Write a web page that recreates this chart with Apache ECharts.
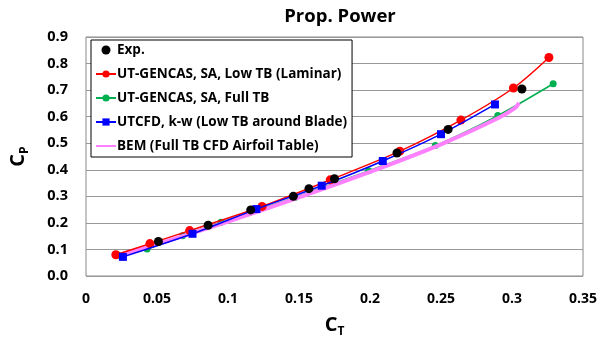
<!DOCTYPE html>
<html><head><meta charset="utf-8">
<script src="https://cdn.jsdelivr.net/npm/echarts@6/dist/echarts.min.js"></script>
<style>html,body{margin:0;padding:0;background:#fff}#c{width:609px;height:343px}</style>
</head><body><div id="c"></div>
<script>
const titleText = 'Prop. Power';
const xTicks = [0, 0.05, 0.1, 0.15, 0.2, 0.25, 0.3, 0.35];
const yTicks = [0, 0.1, 0.2, 0.3, 0.4, 0.5, 0.6, 0.7, 0.8, 0.9];
const seriesNames = ['Exp.', 'UT-GENCAS, SA, Low TB (Laminar)', 'UT-GENCAS, SA, Full TB', 'UTCFD, k-w (Low TB around Blade)', 'BEM (Full TB CFD Airfoil Table)'];

const expCT = [0.051, 0.086, 0.116, 0.146, 0.157, 0.175, 0.219, 0.255, 0.307];
const expCP = [0.130, 0.191, 0.249, 0.300, 0.329, 0.366, 0.463, 0.552, 0.704];

const lowCT = [0.021, 0.045, 0.073, 0.124, 0.172, 0.221, 0.264, 0.301, 0.326];
const lowCP = [0.080, 0.122, 0.171, 0.262, 0.362, 0.470, 0.587, 0.708, 0.823];

const fullCT = [0.023, 0.043, 0.068, 0.095, 0.147, 0.199, 0.246, 0.290, 0.329];
const fullCP = [0.078, 0.102, 0.152, 0.202, 0.296, 0.396, 0.491, 0.604, 0.724];

const kwCT = [0.026, 0.075, 0.120, 0.166, 0.209, 0.250, 0.288];
const kwCP = [0.072, 0.159, 0.252, 0.340, 0.433, 0.534, 0.646];

const bemCT = [0.025, 0.050, 0.100, 0.150, 0.200, 0.250, 0.290, 0.302, 0.305];
const bemCP = [0.082, 0.120, 0.205, 0.296, 0.392, 0.496, 0.594, 0.632, 0.652];

const zip = (a, b) => a.map((v, i) => [v, b[i]]);
const font = 'Open Sans';

const chart = echarts.init(document.getElementById('c'));
chart.setOption({
  animation: false,
  title: {text: titleText, left: 335, top: 2, textAlign: 'center',
    textStyle: {fontFamily: font, fontWeight: 'bold', fontSize: 18.5, color: '#000'}},
  grid: {left: 86, right: 26, top: 37, bottom: 61, show: true, borderColor: '#888', borderWidth: 1},
  legend: {
    orient: 'vertical', left: 91, top: 40, padding: [3, 5, 4, 4], itemGap: 10,
    backgroundColor: '#fff', borderColor: '#000', borderWidth: 1,
    itemWidth: 20, itemHeight: 9,
    textStyle: {fontFamily: font, fontWeight: 'bold', fontSize: 13.5, color: '#000', padding: [0, 0, 0, -4]},
    data: [
      {name: seriesNames[0], itemStyle: {opacity: 1}},
      {name: seriesNames[1]},
      {name: seriesNames[2]},
      {name: seriesNames[3]},
      {name: seriesNames[4], itemStyle: {color: 'rgba(0,0,0,0)', borderWidth: 0}}
    ]
  },
  xAxis: {
    type: 'value', min: 0, max: 0.35, interval: 0.05,
    axisLine: {show: false}, axisTick: {show: false}, splitLine: {show: false},
    axisLabel: {fontFamily: font, fontWeight: 'bold', fontSize: 14, color: '#000', margin: 16,
      formatter: v => { const t = xTicks.find(x => Math.abs(x - v) < 1e-9); return t === undefined ? '' : String(t); }},
    name: '{c|C}{s|T}', nameLocation: 'middle', nameGap: 36,
    nameTextStyle: {rich: {
      c: {fontFamily: font, fontWeight: 'bold', fontSize: 20, color: '#000'},
      s: {fontFamily: font, fontWeight: 'bold', fontSize: 12, color: '#000', padding: [14, 0, 0, 0]}
    }}
  },
  yAxis: {
    type: 'value', min: 0, max: 0.9, interval: 0.1,
    axisLine: {show: false}, axisTick: {show: false},
    splitLine: {show: true, lineStyle: {color: '#999', width: 1}},
    axisLabel: {fontFamily: font, fontWeight: 'bold', fontSize: 14.5, color: '#000', margin: 18,
      formatter: v => { const t = yTicks.find(y => Math.abs(y - v) < 1e-9); return t === undefined ? '' : t.toFixed(1); }},
    name: '{c|C}{s|P}', nameLocation: 'middle', nameGap: 55, nameRotate: 90,
    nameTextStyle: {rich: {
      c: {fontFamily: font, fontWeight: 'bold', fontSize: 20, color: '#000'},
      s: {fontFamily: font, fontWeight: 'bold', fontSize: 12, color: '#000', padding: [14, 0, 0, 0]}
    }}
  },
  series: [
    {name: seriesNames[4], type: 'line', data: zip(bemCT, bemCP), symbol: 'none', smooth: 0.3,
      lineStyle: {color: '#FF80FF', width: 4}, itemStyle: {color: '#FF80FF'}, z: 1},
    {name: seriesNames[2], type: 'line', data: zip(fullCT, fullCP), symbol: 'circle', symbolSize: 7, smooth: 0.3,
      lineStyle: {color: '#00B050', width: 1.5}, itemStyle: {color: '#00B050'}, z: 0},
    {name: seriesNames[1], type: 'line', data: zip(lowCT, lowCP), symbol: 'circle', symbolSize: 9, smooth: 0.3,
      lineStyle: {color: '#FF0000', width: 1.5}, itemStyle: {color: '#FF0000'}, z: 2},
    {name: seriesNames[3], type: 'line', data: zip(kwCT, kwCP), symbol: 'rect', symbolSize: 8, smooth: 0.3,
      lineStyle: {color: '#0000FF', width: 1.5}, itemStyle: {color: '#0000FF'}, z: 3},
    {name: seriesNames[0], type: 'scatter', data: zip(expCT, expCP), symbol: 'circle', symbolSize: 9,
      itemStyle: {color: '#000', opacity: 1}, z: 4}
  ]
});
</script></body></html>
